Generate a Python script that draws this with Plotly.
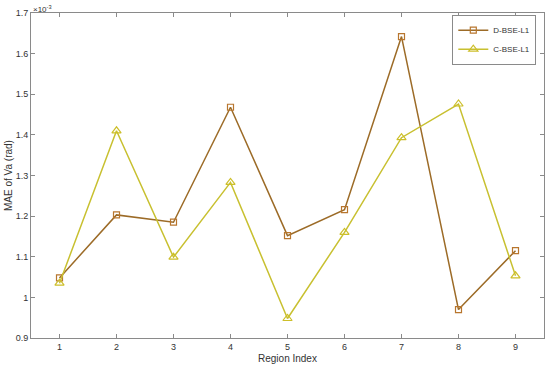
import plotly.graph_objects as go

regions = [1, 2, 3, 4, 5, 6, 7, 8, 9]
d_bse = [1.048, 1.203, 1.185, 1.468, 1.152, 1.216, 1.642, 0.970, 1.115]
c_bse = [1.035, 1.410, 1.099, 1.283, 0.948, 1.160, 1.393, 1.476, 1.053]
y_ticks = [0.9, 1.0, 1.1, 1.2, 1.3, 1.4, 1.5, 1.6, 1.7]
y_labels = ["0.9", "1", "1.1", "1.2", "1.3", "1.4", "1.5", "1.6", "1.7"]

fig = go.Figure()
fig.add_trace(go.Scatter(x=regions, y=d_bse, name="D-BSE-L1", mode="lines+markers",
                         line=dict(color="#9C6B27", width=1.5),
                         marker=dict(symbol="square-open", size=6, color="#B8762E",
                                     line=dict(width=1.2))))
fig.add_trace(go.Scatter(x=regions, y=c_bse, name="C-BSE-L1", mode="lines+markers",
                         line=dict(color="#C8C030", width=1.5),
                         marker=dict(symbol="triangle-up-open", size=8, color="#CDBF2A",
                                     line=dict(width=1.2))))

axis_style = dict(showgrid=False, zeroline=False, showline=True, linecolor="#8a8a8a",
                  linewidth=1, mirror="ticks", ticks="inside", ticklen=4,
                  tickcolor="#8a8a8a", tickfont=dict(size=9, color="#333333"),
                  automargin=False)

fig.update_xaxes(range=[0.5, 9.5], tickvals=regions, **axis_style)
fig.update_yaxes(range=[0.9, 1.7], tickvals=y_ticks, ticktext=y_labels, **axis_style)

fig.add_annotation(text="Region Index", x=0.5, y=0, xref="paper", yref="paper",
                   xanchor="center", yanchor="top", showarrow=False, yshift=-13,
                   font=dict(size=10, color="#333333"))
fig.add_annotation(text="MAE of Va (rad)", x=0, y=0.5, xref="paper", yref="paper",
                   xanchor="right", yanchor="middle", showarrow=False, xshift=-15,
                   textangle=-90, font=dict(size=10, color="#333333"))
fig.add_annotation(text="×10<sup>-3</sup>", x=0, y=1, xref="paper", yref="paper",
                   xanchor="left", yanchor="bottom", showarrow=False,
                   font=dict(size=8, color="#333333"), yshift=-3)

fig.update_layout(width=550, height=368, plot_bgcolor="white", paper_bgcolor="white",
                  font=dict(family="Liberation Sans, Arial, sans-serif"),
                  margin=dict(l=31, r=6, t=13, b=30),
                  legend=dict(x=0.985, y=0.995, xanchor="right", yanchor="top",
                              bordercolor="#8a8a8a", borderwidth=1, bgcolor="white",
                              font=dict(size=8, color="#333333"), tracegroupgap=0,
                              itemwidth=30))

fig.write_html("out.html", config={"displayModeBar": False},
               post_script="document.body.style.margin='0';")
